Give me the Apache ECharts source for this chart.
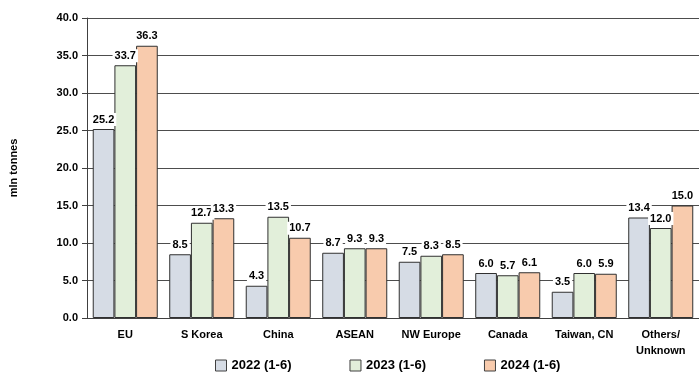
<!DOCTYPE html>
<html>
<head>
<meta charset="utf-8">
<script src="https://cdn.jsdelivr.net/npm/echarts@6/dist/echarts.min.js"></script>
<style>
  html, body { margin: 0; padding: 0; background: #fff; }
  #main { width: 699px; height: 381px; }
</style>
</head>
<body>
<div id="main"></div>
<script>
// categories and series values (mln tonnes)
const regions = ['EU', 'S Korea', 'China', 'ASEAN', 'NW Europe', 'Canada', 'Taiwan, CN', 'Others/\nUnknown'];
const y2022 = [25.2, 8.5, 4.3, 8.7, 7.5, 6.0, 3.5, 13.4];
const y2023 = [33.7, 12.7, 13.5, 9.3, 8.3, 5.7, 6.0, 12.0];
const y2024 = [36.3, 13.3, 10.7, 9.3, 8.5, 6.1, 5.9, 15.0];
const seriesNames = ['2022 (1-6)', '2023 (1-6)', '2024 (1-6)'];
const colors = ['#d6dce5', '#e2efda', '#f8cbad'];

const font = 'Liberation Sans, Arial, sans-serif';

const chart = echarts.init(document.getElementById('main'), null, { renderer: 'canvas' });

function makeSeries(name, data, color) {
  return {
    name: name,
    type: 'bar',
    data: data,
    barGap: '0%',
    barCategoryGap: '15%',
    itemStyle: { color: color, borderColor: '#303030', borderWidth: 1 },
    label: {
      show: true,
      position: 'top',
      distance: 3,
      formatter: p => p.value.toFixed(1),
      fontFamily: font,
      fontWeight: 'bold',
      fontSize: 11,
      color: '#000',
      backgroundColor: '#fff',
      padding: [1, 2]
    }
  };
}

const option = {
  animation: false,
  color: colors,
  grid: { left: 87, right: 0, top: 18, bottom: 63 },
  legend: {
    bottom: 4,
    left: 210,
    itemGap: 58,
    itemWidth: 11,
    itemHeight: 11,
    icon: 'rect',
    textStyle: { fontFamily: font, fontWeight: 'bold', fontSize: 13, color: '#000' },
    data: seriesNames.map((n, i) => ({ name: n, itemStyle: { color: colors[i], borderColor: '#404040', borderWidth: 1 } }))
  },
  xAxis: {
    type: 'category',
    data: regions,
    axisLine: { lineStyle: { color: '#404040', width: 1 } },
    axisTick: { show: false },
    axisLabel: {
      fontFamily: font, fontWeight: 'bold', fontSize: 11, color: '#000',
      margin: 9, lineHeight: 16, interval: 0
    }
  },
  yAxis: {
    type: 'value',
    min: 0,
    max: 40,
    interval: 5,
    name: 'mln tonnes',
    nameLocation: 'middle',
    nameGap: 68,
    nameRotate: 90,
    nameTextStyle: { fontFamily: font, fontWeight: 'bold', fontSize: 11, color: '#000' },
    axisLine: { show: true, lineStyle: { color: '#404040', width: 1 } },
    axisTick: { show: true, length: 5, lineStyle: { color: '#404040' } },
    splitLine: { lineStyle: { color: '#4d4d4d', width: 1 } },
    axisLabel: {
      fontFamily: font, fontWeight: 'bold', fontSize: 11, color: '#000',
      margin: 9,
      formatter: v => v.toFixed(1)
    }
  },
  series: [
    makeSeries(seriesNames[0], y2022, colors[0]),
    makeSeries(seriesNames[1], y2023, colors[1]),
    makeSeries(seriesNames[2], y2024, colors[2])
  ]
};

chart.setOption(option);
</script>
</body>
</html>
